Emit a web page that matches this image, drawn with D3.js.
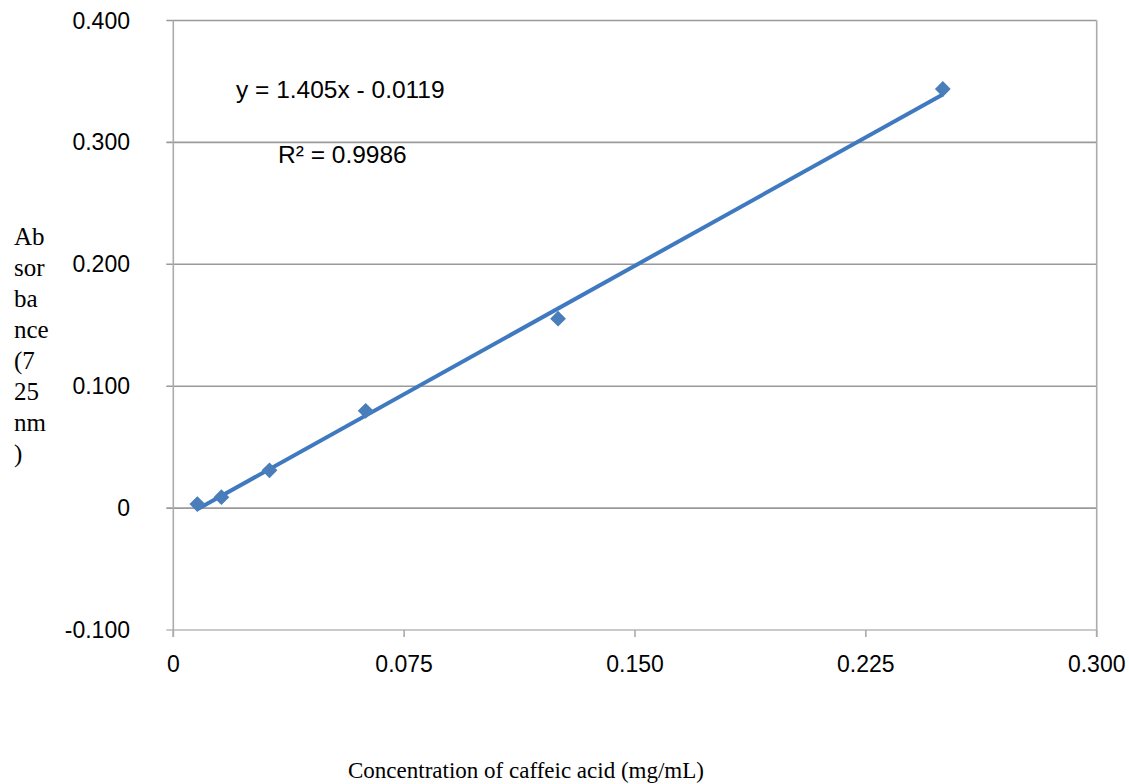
<!DOCTYPE html>
<html><head><meta charset="utf-8">
<script src="https://cdn.jsdelivr.net/npm/d3@7"></script>
<style>body{margin:0;background:#fff}svg{display:block}</style>
</head><body>
<svg id="c" width="1129" height="784"></svg>
<script>
const concentrations = [0.0078125, 0.015625, 0.03125, 0.0625, 0.125, 0.25];
const absorbances = [0.0033, 0.009, 0.031, 0.0798, 0.1554, 0.3438];
const xTicks = [0, 0.075, 0.150, 0.225, 0.300];
const xTickLabels = ["0", "0.075", "0.150", "0.225", "0.300"];
const yTicks = [-0.1, 0, 0.1, 0.2, 0.3, 0.4];
const yTickLabels = ["-0.100", "0", "0.100", "0.200", "0.300", "0.400"];
const slope = 1.405, intercept = -0.0119;
const eqText = "y = 1.405x - 0.0119";
const r2Text = "R² = 0.9986";
const yTitleLines = ["Ab", "sor", "ba", "nce", "(7", "25", "nm", ")"];
const xTitle = "Concentration of caffeic acid (mg/mL)";

const sans = "Liberation Sans, Arial, sans-serif";
const serif = "Liberation Serif, Times New Roman, serif";
const svg = d3.select("#c");
const x = d3.scaleLinear().domain([0, 0.3]).range([173.3, 1096.7]);
const y = d3.scaleLinear().domain([-0.1, 0.4]).range([630, 20.5]);

// horizontal gridlines (except bottom axis)
svg.append("g").selectAll("line").data(yTicks.filter(v => v > -0.1)).join("line")
  .attr("x1", x(0) - 7).attr("x2", x(0.3))
  .attr("y1", d => y(d)).attr("y2", d => y(d))
  .attr("stroke", "#9a9a9a").attr("stroke-width", 1.6);
// right border
svg.append("line").attr("x1", x(0.3)).attr("x2", x(0.3)).attr("y1", y(0.4)).attr("y2", y(-0.1) + 7)
  .attr("stroke", "#ababab").attr("stroke-width", 1.6);
// bottom axis
svg.append("line").attr("x1", x(0) - 7).attr("x2", x(0.3)).attr("y1", y(-0.1)).attr("y2", y(-0.1))
  .attr("stroke", "#b8b8b8").attr("stroke-width", 1.6);
// left axis
svg.append("line").attr("x1", x(0)).attr("x2", x(0)).attr("y1", y(0.4)).attr("y2", y(-0.1) + 7)
  .attr("stroke", "#ababab").attr("stroke-width", 1.6);
// x ticks
svg.append("g").selectAll("line").data(xTicks).join("line")
  .attr("x1", d => x(d)).attr("x2", d => x(d)).attr("y1", y(-0.1)).attr("y2", y(-0.1) + 7)
  .attr("stroke", "#ababab").attr("stroke-width", 1.6);

// tick labels
svg.append("g").selectAll("text").data(xTicks).join("text")
  .attr("x", d => x(d)).attr("y", 672).attr("text-anchor", "middle")
  .attr("font-family", sans).attr("font-size", 23).attr("fill", "#000")
  .text((d, i) => xTickLabels[i]);
svg.append("g").selectAll("text").data(yTicks).join("text")
  .attr("x", 130).attr("y", d => y(d) + 8).attr("text-anchor", "end")
  .attr("font-family", sans).attr("font-size", 23).attr("fill", "#000")
  .text((d, i) => yTickLabels[i]);

// trendline
const xmin = d3.min(concentrations), xmax = d3.max(concentrations);
svg.append("line")
  .attr("x1", x(xmin)).attr("y1", y(slope * xmin + intercept))
  .attr("x2", x(xmax)).attr("y2", y(slope * xmax + intercept))
  .attr("stroke", "#3f79c0").attr("stroke-width", 4);

// markers (diamonds = rotated squares)
const sym = d3.symbol().type(d3.symbolSquare).size(125);
svg.append("g").selectAll("path").data(concentrations).join("path")
  .attr("d", sym)
  .attr("transform", (d, i) => `translate(${x(d)},${y(absorbances[i])}) rotate(45)`)
  .attr("fill", "#4a7ebb");

// equation labels
svg.append("text").attr("x", 236).attr("y", 98)
  .attr("font-family", sans).attr("font-size", 24.5).text(eqText);
svg.append("text").attr("x", 278).attr("y", 163)
  .attr("font-family", sans).attr("font-size", 24.5).text(r2Text);

// y title
svg.append("g").selectAll("text").data(yTitleLines).join("text")
  .attr("x", 14).attr("y", (d, i) => 245 + i * 31)
  .attr("font-family", serif).attr("font-size", 25).text(d => d);

// x title
svg.append("text").attr("x", 526).attr("y", 778).attr("text-anchor", "middle")
  .attr("font-family", serif).attr("font-size", 23).text(xTitle);
</script>
</body></html>
